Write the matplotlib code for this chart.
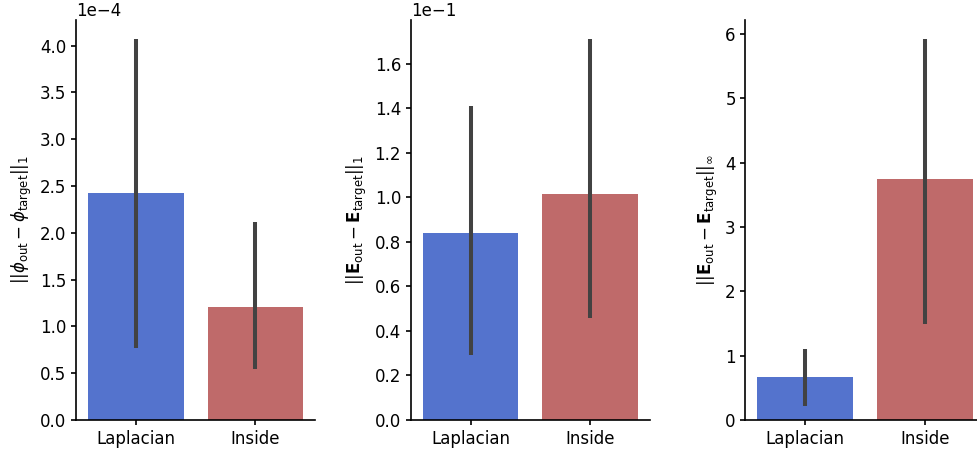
import matplotlib
matplotlib.use('Agg')
import matplotlib.pyplot as plt
from matplotlib.ticker import MultipleLocator

# Categories and per-method results (mean, CI low, CI high)
METHODS = ['Laplacian', 'Inside']
COLORS  = ['#5473CD', '#BF6A6A']

phi_l1_mean = [2.42e-4, 1.21e-4]
phi_l1_lo   = [0.77e-4, 0.54e-4]
phi_l1_hi   = [4.07e-4, 2.12e-4]

e_l1_mean = [0.0839, 0.1016]
e_l1_lo   = [0.0294, 0.0458]
e_l1_hi   = [0.1411, 0.1712]

e_inf_mean = [0.665, 3.74]
e_inf_lo   = [0.217, 1.486]
e_inf_hi   = [1.11, 5.92]

YLABELS = [
    r'$||\phi_{\mathrm{out}} - \phi_{\mathrm{target}}||_1$',
    r'$||\mathbf{E}_{\mathrm{out}} - \mathbf{E}_{\mathrm{target}}||_1$',
    r'$||\mathbf{E}_{\mathrm{out}} - \mathbf{E}_{\mathrm{target}}||_\infty$',
]

plt.rcParams['font.family'] = 'DejaVu Sans'
plt.rcParams['mathtext.fontset'] = 'dejavusans'
plt.rcParams['font.size'] = 12
plt.rcParams['axes.linewidth'] = 1.2

fig, axes = plt.subplots(1, 3, figsize=(9.77, 4.53), dpi=100)
fig.subplots_adjust(left=76/977, right=984.6/977, top=1 - 20/453,
                    bottom=1 - 420/453, wspace=0.4)

panels = [
    (phi_l1_mean, phi_l1_lo, phi_l1_hi),
    (e_l1_mean, e_l1_lo, e_l1_hi),
    (e_inf_mean, e_inf_lo, e_inf_hi),
]

for ax, (mean, lo, hi), ylab in zip(axes, panels, YLABELS):
    x = range(len(METHODS))
    ax.bar(x, mean, width=0.8, color=COLORS)
    ax.vlines(x, lo, hi, color='#424242', linewidth=2.9, zorder=3)
    ax.set_xticks(list(x))
    ax.set_xticklabels(METHODS)
    ax.set_xlim(-0.5, len(METHODS) - 0.5)
    ax.set_ylabel(ylab)
    ax.spines['top'].set_visible(False)
    ax.spines['right'].set_visible(False)
    ax.tick_params(length=3.5, width=1.2)
    ax.ticklabel_format(axis='y', style='sci', scilimits=(0, 0))

axes[1].yaxis.set_major_locator(MultipleLocator(0.02))

plt.savefig('out.png', dpi=100)
